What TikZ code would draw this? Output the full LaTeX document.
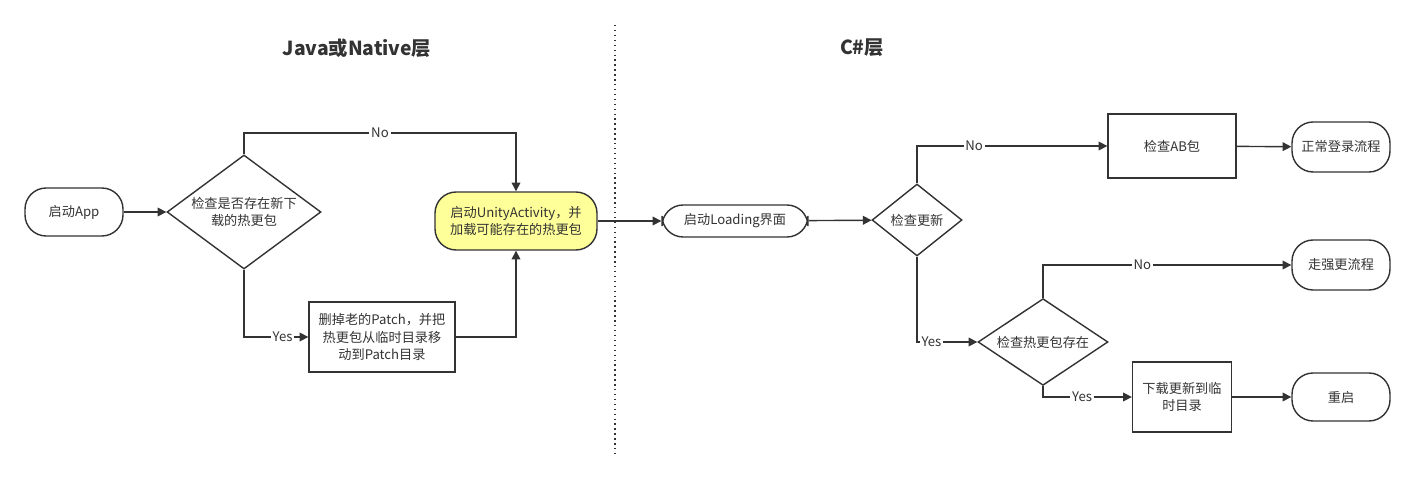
\documentclass[tikz,border=0pt]{standalone}
\usepackage{fontspec}
\setmainfont{Noto Sans CJK SC}
\usetikzlibrary{positioning,shapes.geometric,arrows.meta}
\definecolor{edge}{HTML}{333333}
\definecolor{hot}{HTML}{FFFF99}
\begin{document}
\begin{tikzpicture}[
    x=0.02cm, y=-0.02cm,
    font=\fontsize{7.5pt}{10pt}\selectfont,
    every node/.style={text=edge},
    term/.style={draw=edge, thick, rounded corners=12pt, align=center, inner sep=2pt},
    proc/.style={draw=edge, thick, align=center},
    check/.style={draw=edge, thick, diamond, aspect=1.35, align=center, inner sep=1pt},
    flow/.style={draw=edge, thick, -{Triangle[length=5pt,width=5pt]}},
    tag/.style={fill=white, inner sep=1pt},
    title/.style={font=\fontsize{11pt}{13pt}\selectfont\bfseries}
]
    \useasboundingbox (0,0) rectangle (1416,479);
    % Headings and divider:
    \node[title] (tj) at (357,48) {Java或Native层};
    \node[title] (tc) at (862,48) {C\#层};
    \coordinate (d1) at (615,25);
    \coordinate (d2) at (615,455);
    \draw[edge, thick, dotted] (d1) -- (d2);

    % Java side:
    \node[term, minimum width=1.96cm, minimum height=0.96cm] (app) at (74,212) {启动App};
    \node[check, minimum width=2.64cm, minimum height=1.96cm] (new) at (244,212) {检查是否存在新下\\载的热更包};
    \node[term, fill=hot, minimum width=3.24cm, minimum height=1.16cm] (unity) at (516,221) {启动UnityActivity，并\\加载可能存在的热更包};
    \node[proc, minimum width=2.92cm, minimum height=1.4cm] (patch) at (382,337) {删掉老的Patch，并把\\热更包从临时目录移\\动到Patch目录};

    % C# side:
    \node[term, minimum width=2.92cm, minimum height=0.64cm] (load) at (735,221) {启动Loading界面};
    \node[check, minimum width=1.8cm, minimum height=1.44cm] (upd) at (917,220) {检查更新};
    \node[proc, minimum width=2.56cm, minimum height=1.28cm] (ab) at (1172,146) {检查AB包};
    \node[term, minimum width=1.96cm, minimum height=1cm] (login) at (1341,147) {正常登录流程};
    \node[term, minimum width=1.96cm, minimum height=1cm] (force) at (1341,265) {走强更流程};
    \node[check, minimum width=2.6cm, minimum height=1.52cm] (pkg) at (1043,342) {检查热更包存在};
    \node[proc, minimum width=1.98cm, minimum height=1.4cm] (down) at (1182,397) {下载更新到临\\时目录};
    \node[term, minimum width=1.96cm, minimum height=0.96cm] (boot) at (1341,397) {重启};

    \path[flow] (app) -- (new);
    \path[flow] (new.north) |- (380,133) node[tag] {No} -| (unity.north);
    \path[flow] (new.south) |- node[tag, pos=0.8] {Yes} (patch.west);
    \path[flow] (patch.east) -| (unity.south);
    \path[flow] (unity) -- (load);
    \path[flow] (load) -- (upd);
    \path[flow] (upd.north) |- node[tag, pos=0.65] {No} (ab.west);
    \path[flow] (ab) -- (login);
    \path[flow] (upd.south) |- node[tag, pos=0.62] {Yes} (pkg.west);
    \path[flow] (pkg.north) |- node[tag, pos=0.7] {No} (force.west);
    \path[flow] (pkg.south) |- node[tag, pos=0.72] {Yes} (down.west);
    \path[flow] (down) -- (boot);
\end{tikzpicture}
\end{document}
